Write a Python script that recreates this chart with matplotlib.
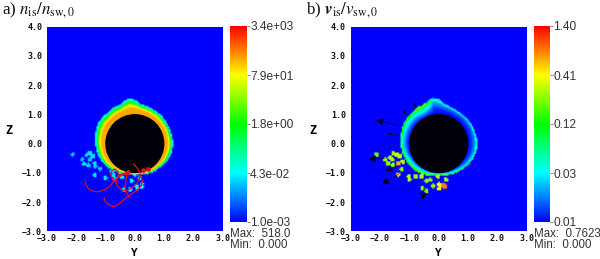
import numpy as np
import matplotlib
matplotlib.use("Agg")
import matplotlib.pyplot as plt
from matplotlib.colors import LinearSegmentedColormap, LogNorm

# ---- data ----
angles_deg = [0, 15, 30, 45, 60, 72, 82, 90, 98, 106, 114, 122, 130, 140, 150, 165, 180, 195, 210, 225, 240, 255, 270, 285, 300, 315, 330, 345, 360]
outer_a = [1.31, 1.29, 1.29, 1.31, 1.31, 1.33, 1.36, 1.48, 1.55, 1.47, 1.40, 1.44, 1.40, 1.42, 1.44, 1.40, 1.36, 1.34, 1.30, 1.24, 1.16, 1.12, 1.09, 1.12, 1.17, 1.20, 1.26, 1.30, 1.31]
outer_b = [1.33, 1.29, 1.29, 1.27, 1.27, 1.30, 1.36, 1.50, 1.56, 1.47, 1.40, 1.44, 1.38, 1.40, 1.38, 1.34, 1.31, 1.30, 1.28, 1.26, 1.22, 1.17, 1.13, 1.14, 1.18, 1.22, 1.27, 1.31, 1.33]
peak_b = [0.05, 0.04, 0.035, 0.035, 0.035, 0.035, 0.04, 0.05, 0.05, 0.16, 0.22, 0.25, 0.14, 0.14, 0.14, 0.10, 0.08, 0.10, 0.16, 0.22, 0.28, 0.30, 0.30, 0.20, 0.14, 0.08, 0.06, 0.05, 0.05]

ring_t_a = [0.0, 0.40, 0.55, 0.70, 0.85, 1.0, 1.02]
ring_v_a = [290, 270, 79, 4, 0.3, 0.03, 0.001]
ring_t_b = [0.0, 0.35, 0.75, 0.92, 1.0, 1.03]
ring_f_b = [0.0, 0.05, 0.22, 1.0, 0.35, 0.0]

blobs_a_y = [-2.13, -1.82, -1.67, -1.56, -1.45, -1.56, -1.74, -1.59, -1.39, -1.36, -1.19, -1.39, -1.02, -0.74, -0.68, -0.45, -0.38, -0.11, 0.06, 0.23, 0.17, 0.0, -0.80, -0.17, 0.08, 0.23, -0.53]
blobs_a_z = [-0.38, -0.57, -0.42, -0.34, -0.45, -0.57, -0.72, -0.77, -0.70, -0.80, -0.88, -1.10, -1.19, -1.11, -1.23, -1.16, -1.59, -1.30, -1.48, -1.42, -1.19, -1.08, -0.97, -1.59, -1.56, -1.50, -1.00]
blobs_a_v = [0.02, 0.02, 0.025, 0.03, 0.03, 0.02, 0.03, 0.03, 0.03, 0.02, 0.02, 0.03, 0.03, 0.03, 0.03, 0.04, 0.04, 0.04, 0.04, 0.05, 0.04, 0.04, 0.03, 0.05, 0.04, 0.05, 0.04]

blobs_b_y = [-2.13, -1.85, -1.68, -1.57, -1.45, -1.62, -1.74, -1.59, -1.39, -1.28, -1.39, -1.03, -1.02, -0.80, -0.60, -0.43, -0.30, -0.20, -0.57, -0.43, 0.0, 0.02, 0.14, 0.23, -0.03, 0.19, -1.34, -1.23]
blobs_b_z = [-0.38, -0.57, -0.51, -0.34, -0.40, -0.57, -0.70, -0.76, -0.70, -0.91, -1.08, -1.16, -1.25, -1.14, -1.16, -1.31, -1.27, -1.48, -1.54, -1.66, -1.42, -1.57, -1.45, -1.27, -1.16, -1.50, -0.45, -0.63]
blobs_b_v = [0.20, 0.25, 0.28, 0.25, 0.30, 0.25, 0.22, 0.25, 0.60, 0.25, 0.45, 0.30, 0.30, 0.25, 0.25, 0.22, 0.22, 0.25, 0.22, 0.22, 0.40, 0.35, 0.76, 0.25, 0.30, 0.76, 0.30, 0.28]

# red ion trajectories, panel a (Y, Z)
traj_1_y = [-1.70, -1.67, -1.62, -1.53, -1.42, -1.28, -1.13, -1.02, -0.90, -0.81, -0.73, -0.62, -0.51, -0.39, -0.28]
traj_1_z = [-1.29, -1.40, -1.49, -1.58, -1.63, -1.645, -1.61, -1.57, -1.49, -1.40, -1.29, -1.20, -1.12, -1.05, -1.01]
traj_2_y = [-1.05, -1.03, -0.96, -0.85, -0.73, -0.62, -0.51, -0.39, -0.28, -0.14, 0.01, 0.14, 0.23, 0.26, 0.23, 0.15, 0.06]
traj_2_z = [-1.83, -1.94, -2.03, -2.11, -2.15, -2.11, -2.03, -1.93, -1.83, -1.74, -1.63, -1.53, -1.41, -1.29, -1.18, -1.10, -1.07]
traj_3_y = [-0.05, 0.09, 0.18, 0.15, 0.06, -0.11, -0.28, -0.45, -0.59, -0.65, -0.59, -0.45, -0.28]
traj_3_z = [-0.69, -0.84, -1.01, -1.21, -1.37, -1.52, -1.60, -1.58, -1.46, -1.29, -1.12, -1.03, -0.99]
traj_4_y = [-0.82, -0.79, -0.68, -0.56, -0.59, -0.73, -0.82]
traj_4_z = [-1.07, -0.92, -0.87, -0.99, -1.18, -1.26, -1.07]
traj_5_y = [-0.28, -0.30, -0.34, -0.28, -0.17]
traj_5_z = [-1.01, -1.24, -1.46, -1.69, -1.86]
clump_y = [-0.24, 0.29, 0.46]
clump_z = [-0.97, -0.90, -0.86]

# black velocity glyphs, panel b
arrow_y0 = [-1.40, -1.85, -1.34, -1.34, -0.49, -1.34, -1.06, -0.72]
arrow_z0 = [0.62, -0.51, -0.74, -1.02, -1.48, 0.28, 0.97, 1.25]
arrow_y1 = [-2.14, -2.40, -1.83, -1.94, -0.55, -1.74, -1.23, -0.89]
arrow_z1 = [0.80, -0.53, -0.93, -1.39, -1.93, 0.34, 1.14, 1.36]
arrow_big = [1, 1, 1, 1, 1, 0, 0, 0]

xticks = [-3, -2, -1, 0, 1, 2, 3]
yticks = [-3, -2, -1, 0, 1, 2, 3, 4]
cbar_a = ["1.0e-03", "4.3e-02", "1.8e+00", "7.9e+01", "3.4e+03"]
cbar_b = ["0.01", "0.03", "0.12", "0.41", "1.40"]
vlim_a = (1e-3, 3.4e3)
vlim_b = (0.01, 1.40)

W, H = 600, 259
fig = plt.figure(figsize=(W / 100, H / 100), dpi=100)
fig.patch.set_facecolor("white")
plt.rcParams["mathtext.fontset"] = "stix"


def px_axes(x0, y0, x1, y1):
    return fig.add_axes([x0 / W, 1 - y1 / H, (x1 - x0) / W, (y1 - y0) / H])


cmap = LinearSegmentedColormap.from_list(
    "visit", ["#0000ff", "#00ffff", "#00ff00", "#ffff00", "#ff0000"])

gy = np.arange(-3, 3.0001, 0.05)
gz = np.arange(-3, 4.0001, 0.05)
YY, ZZ = np.meshgrid(gy, gz)
RR = np.hypot(YY, ZZ)
TH = np.degrees(np.arctan2(ZZ, YY)) % 360


def add_blobs(F, by, bz, bv, size):
    for y, z, v in zip(by, bz, bv):
        d = np.hypot(YY - y, ZZ - z)
        F = np.where(d < size, np.maximum(F, v), F)
    return F


# panel a field
Ra = np.interp(TH, angles_deg, outer_a)
ta = (RR - 1.0) / (Ra - 1.0)
Fa = 10 ** np.interp(ta, ring_t_a, np.log10(ring_v_a))
Fa = add_blobs(Fa, blobs_a_y, blobs_a_z, blobs_a_v, 0.075)

# panel b field
Rb = np.interp(TH, angles_deg, outer_b)
Pb = np.interp(TH, angles_deg, peak_b)
tb = (RR - 1.0) / (Rb - 1.0)
fb = np.interp(tb, ring_t_b, ring_f_b)
Fb = np.maximum(0.01, 0.01 + fb * Pb)
Fb = add_blobs(Fb, blobs_b_y, blobs_b_z, blobs_b_v, 0.08)

mono = {"family": "DejaVu Sans Mono", "weight": "bold", "size": 6.0, "color": "#111111"}
sans = {"family": "Liberation Sans", "size": 8.6, "color": "#333333"}


def panel(box, cbox, F, vlim, clabels, maxmin, title, title_x):
    ax = px_axes(*box)
    ax.imshow(F, origin="lower", extent=[-3, 3, -3, 4], aspect="auto",
              cmap=cmap, norm=LogNorm(*vlim), interpolation="bilinear")
    ax.add_patch(plt.Circle((0, 0), 1.01, color="#000008", lw=0, zorder=2))
    ax.set_xlim(-3, 3)
    ax.set_ylim(-3, 4)
    for s in ax.spines.values():
        s.set_visible(False)
    ax.set_xticks(xticks)
    ax.set_xticklabels([f"{t:.1f}".replace("-", "\u2212") for t in xticks], **mono)
    ax.set_yticks(yticks)
    ax.set_yticklabels([f"{t:.1f}".replace("-", "\u2212") for t in yticks], **mono)
    ax.tick_params(axis="y", length=0, pad=3.5)
    ax.tick_params(axis="x", length=0, pad=1.5)
    ax.set_xlabel("Y", family="DejaVu Sans Mono", weight="bold", size=8, va="center")
    ax.xaxis.set_label_coords(0.5, -0.105)
    ax.set_ylabel("Z", family="DejaVu Sans Mono", weight="bold", size=8.5, rotation=0, va="center")
    ax.yaxis.set_label_coords(-0.215, 0.495)

    cax = px_axes(*cbox)
    g = np.geomspace(vlim[0], vlim[1], 256)[:, None]
    cax.imshow(g, origin="lower", aspect="auto", cmap=cmap, norm=LogNorm(*vlim),
               extent=[0, 1, 0, 1])
    cax.set_xticks([])
    cax.yaxis.tick_right()
    cax.set_yticks(np.linspace(0, 1, 5))
    cax.set_yticklabels(clabels, **sans)
    cax.tick_params(axis="y", length=2, width=0.5, pad=0.5, color="#555555")
    for s in cax.spines.values():
        s.set_visible(False)

    small = dict(sans, size=8.3)
    fig.text(cbox[0] / W, 1 - 234 / H, maxmin[0], va="center", ha="left", **small)
    fig.text(cbox[0] / W, 1 - 245 / H, maxmin[1], va="center", ha="left", **small)
    fig.text(title_x / W, 1 - 10.5 / H, title, va="center", ha="left",
             family="Liberation Serif", size=12.2, color="#111111")
    return ax


ax_a = panel((47, 26.5, 222.7, 231.5), (230, 26, 246.7, 222),
             Fa, vlim_a, cbar_a, ("Max:  518.0", "Min:  0.000"),
             r"a) $n_{\mathrm{is}}/n_{\mathrm{sw,0}}$", 2)
ax_b = panel((350.7, 26.5, 526.7, 231.5), (534.3, 26, 550, 222),
             Fb, vlim_b, cbar_b, ("Max:  0.7623", "Min:  0.000"),
             r"b) $\boldsymbol{v}_{\mathrm{is}}/v_{\mathrm{sw,0}}$", 306)

for ty, tz in [(traj_1_y, traj_1_z), (traj_2_y, traj_2_z), (traj_3_y, traj_3_z),
               (traj_4_y, traj_4_z), (traj_5_y, traj_5_z)]:
    ax_a.plot(ty, tz, color="#e0101c", lw=0.9, solid_capstyle="round", zorder=3)
ax_a.plot(clump_y, clump_z, ls="none", marker="o", ms=3.4, color="#e0101c", mew=0, zorder=3)

for y0, z0, y1, z1, big in zip(arrow_y0, arrow_z0, arrow_y1, arrow_z1, arrow_big):
    ax_b.annotate("", xy=(y1, z1), xytext=(y0, z0), zorder=3,
                  arrowprops=dict(arrowstyle="-|>,head_length=0.45,head_width=0.22" if big
                                  else "-|>,head_length=0.2,head_width=0.1",
                                  color="#000022", lw=0.4, shrinkA=0, shrinkB=0))

fig.savefig("out.png", dpi=100)
